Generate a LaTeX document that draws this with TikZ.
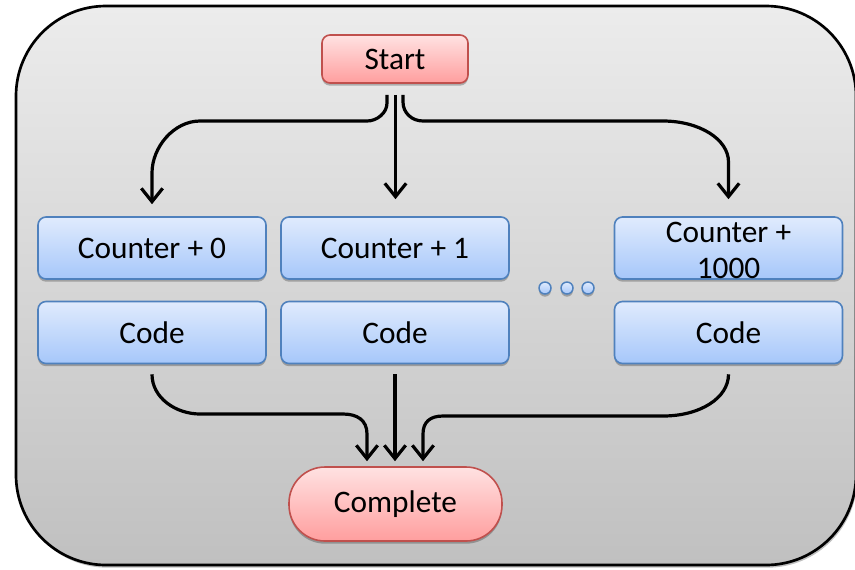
\documentclass[tikz,border=0pt]{standalone}
\usepackage{fontspec}
\setmainfont{Carlito}
\usetikzlibrary{arrows.meta,calc,shadows}

\definecolor{frametop}{RGB}{236,236,236}
\definecolor{framebot}{RGB}{192,192,192}
\definecolor{redtop}{RGB}{255,226,226}
\definecolor{redbot}{RGB}{255,158,158}
\definecolor{redline}{RGB}{192,80,77}
\definecolor{bluetop}{RGB}{224,235,253}
\definecolor{bluebot}{RGB}{166,199,250}
\definecolor{blueline}{RGB}{79,129,189}

\begin{document}
\begin{tikzpicture}[x=0.75pt,y=-0.75pt,
  every node/.style={font=\fontsize{23.5}{27}\selectfont},
  softshadow/.style={drop shadow={shadow xshift=0pt,shadow yshift=-2pt,opacity=0.25,fill=black}},
  redbox/.style={draw=redline,line width=1.2pt,top color=redtop,bottom color=redbot,
    inner sep=0pt,softshadow},
  bluebox/.style={draw=blueline,line width=1.2pt,top color=bluetop,bottom color=bluebot,
    rounded corners=6pt,minimum width=171pt,minimum height=46.5pt,inner sep=0pt,softshadow},
  dotnode/.style={circle,draw=blueline,line width=1.1pt,top color=bluetop,bottom color=bluebot,
    minimum size=9pt,inner sep=0pt,softshadow},
  conn/.style={line width=2.4pt,-{Straight Barb[length=10pt,width=16pt]}},
]
\useasboundingbox (0,0) rectangle (855,569);

% outer frame
\path[draw=black,line width=2pt,rounded corners=67.5pt,top color=frametop,bottom color=framebot,
  drop shadow={shadow xshift=1pt,shadow yshift=-2pt,opacity=0.25,fill=black}]
  (16,6) rectangle (856,565);

% nodes
\node[redbox,rounded corners=6pt,minimum width=109.5pt,minimum height=36pt] (start) at (395,59) {Start};

\node[bluebox] (c0) at (152,248) {Counter + 0};
\node[bluebox] (c1) at (395,248) {Counter + 1};
\node[bluebox,label={[align=center,font=\fontsize{23.5}{27}\selectfont,yshift=-1.5pt]center:Counter +\\1000}] (c2) at (728.5,248) {};

\node[bluebox] (k0) at (152,332.5) {Code};
\node[bluebox] (k1) at (395,332.5) {Code};
\node[bluebox] (k2) at (728.5,332.5) {Code};

\node[dotnode] (d1) at (545,288) {};
\node[dotnode] (d2) at (567,288) {};
\node[dotnode] (d3) at (588,288) {};

\node[redbox,rounded corners=27pt,minimum width=159.75pt,minimum height=55.5pt] (done) at (395.5,504) {Complete};

% fan-out from Start
\draw[conn,shorten >=9pt] ($(start.south)+(-8,11)$) -- (387,103)
  .. controls (387,113) and (377,121) .. (367,121) -- (200,121)
  .. controls (174,121) and (152,147) .. (152,173) -- (c0.north);
\draw[conn,shorten >=12.75pt] ($(start.south)+(0.5,11)$) -- ($(c1.north)+(0.5,0)$);
\draw[conn,shorten >=12.75pt] ($(start.south)+(8,11)$) -- (403,102)
  .. controls (403,113) and (412,121) .. (423,121) -- (663,121)
  .. controls (699,121) and (728.5,139) .. (728.5,162) -- (c2.north);

% fan-in to Complete
\draw[conn,shorten >=3.75pt] ($(k0.south)+(0,10)$)
  .. controls (152,398) and (176,414) .. (200,414) -- (343,414)
  .. controls (357,414) and (367,420) .. (367,434) -- ($(done.north)+(-28.5,0)$);
\draw[conn,shorten >=3.75pt] ($(k1.south)+(0,10)$) -- ($(done.north)+(-0.5,0)$);
\draw[conn,shorten >=3.75pt] ($(k2.south)+(0,10)$)
  .. controls (728.5,398) and (700,416) .. (663,416) -- (443,416)
  .. controls (430,416) and (423,422) .. (423,434) -- ($(done.north)+(27.5,0)$);
\end{tikzpicture}
\end{document}
